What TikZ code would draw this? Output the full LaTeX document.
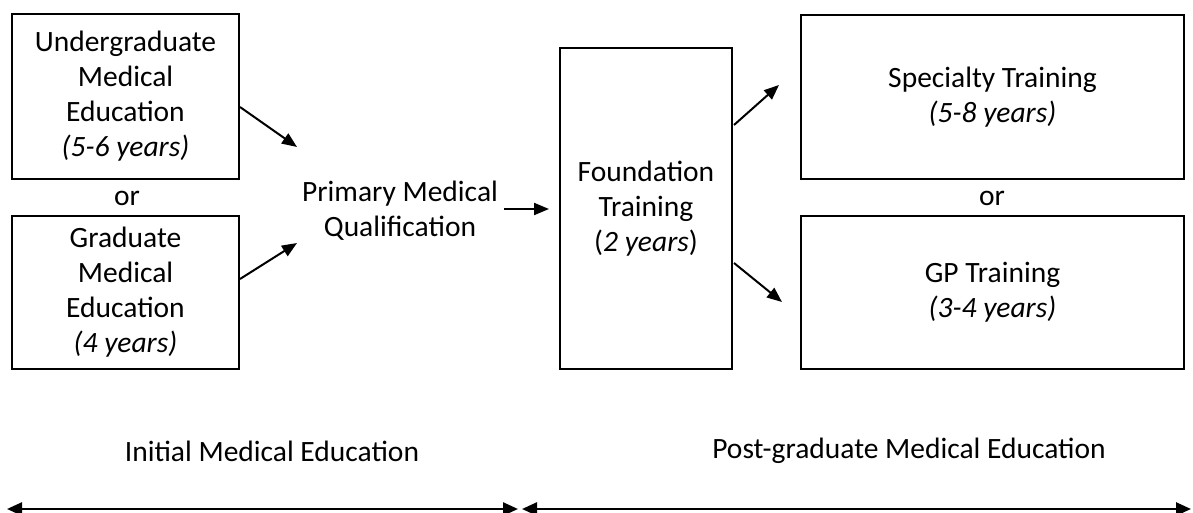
\documentclass[tikz,border=0pt]{standalone}
\usepackage{fontspec}
\setmainfont{Carlito}
\usetikzlibrary{arrows.meta}
\tikzset{
  box/.style={draw,line width=2pt,rectangle,align=center,inner sep=0pt},
  lbl/.style={align=center,inner sep=0pt},
  arr/.style={-{Triangle[length=15pt,width=12pt]},line width=2pt},
  span/.style={{Triangle[length=15pt,width=13pt]}-{Triangle[length=15pt,width=13pt]},line width=2.5pt},
}
\begin{document}
\begin{tikzpicture}[x=1pt,y=-1pt,font=\fontsize{29.5}{35}\selectfont]
\useasboundingbox (0,0) rectangle (1193,513);
% Initial education
\node[box,minimum width=227pt,minimum height=165pt] (ugme) at (125.5,96.5) {Undergraduate\\Medical\\Education\\\textit{(5-6 years)}};
\node[lbl] (orleft) at (127,198) {or};
\node[box,minimum width=227pt,minimum height=153pt] (gme) at (125.5,292.5) {Graduate\\Medical\\Education\\\textit{(4 years)}};
\node[lbl] (pmq) at (400,211) {Primary Medical\\Qualification};

% Post-graduate training
\node[box,minimum width=172pt,minimum height=321pt] (fnd) at (646,208.5) {Foundation\\Training\\(\textit{2 years})};
\node[box,minimum width=383pt,minimum height=164pt] (spec) at (992.5,97) {Specialty Training\\\textit{(5-8 years)}};
\node[lbl] (orright) at (992,198) {or};
\node[box,minimum width=383pt,minimum height=153pt] (gp) at (992.5,292.5) {GP Training\\\textit{(3-4 years)}};

% Arrows
\coordinate (pmqtop) at (297,147);
\coordinate (pmqbot) at (297,243);
\coordinate (spectip) at (779,85);
\coordinate (gptip) at (782,302);
\draw[arr] ([yshift=-10.5pt]ugme.east) -- (pmqtop);
\draw[arr] ([yshift=13.5pt]gme.east) -- (pmqbot);
\draw[arr] ([xshift=6pt,yshift=2pt]pmq.east) -- ([xshift=-10pt,yshift=2pt]pmq.east -| fnd.west);
\draw[arr] ([xshift=1pt,yshift=83.5pt]fnd.east) -- (spectip);
\draw[arr] ([xshift=1pt,yshift=-54.5pt]fnd.east) -- (gptip);

% Stages
\node[lbl] (initial) at (272,451) {Initial Medical Education};
\node[lbl] (postgrad) at (909,451) {Post-graduate Medical Education};
\coordinate (ileft) at (7,509);
\coordinate (iright) at (518,509);
\coordinate (pleft) at (522,509);
\coordinate (pright) at (1191,509);
\draw[span] (ileft) -- (iright);
\draw[span] (pleft) -- (pright);
\end{tikzpicture}
\end{document}
